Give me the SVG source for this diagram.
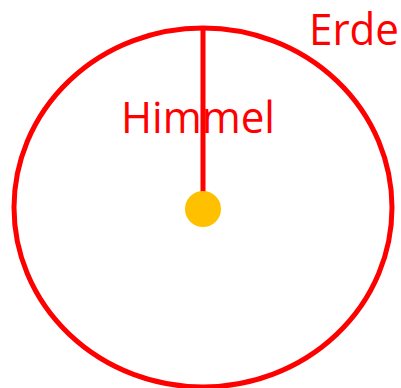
<svg xmlns="http://www.w3.org/2000/svg" width="401" height="388" viewBox="0 0 401 388">
<style>
.lbl{font-family:"Open Sans","Liberation Sans",Arial,sans-serif;font-size:43px;fill:#FF0000}
.stk{fill:none;stroke:#FF0000;stroke-width:5}
</style>
<rect width="401" height="388" fill="#FFFFFF"/>
<g id="erde">
<ellipse class="stk" cx="203" cy="207.5" rx="189" ry="179.5"/>
<text class="lbl" x="309" y="45" textLength="90" lengthAdjust="spacingAndGlyphs">Erde</text>
</g>
<g id="connectors">
<line class="stk" x1="203" y1="28" x2="203" y2="200"/>
</g>
<g id="himmel">
<text class="lbl" x="121" y="133" textLength="154" lengthAdjust="spacingAndGlyphs">Himmel</text>
</g>
<g id="sonne">
<circle cx="203" cy="209" r="18" fill="#FFC000"/>
</g>
</svg>
